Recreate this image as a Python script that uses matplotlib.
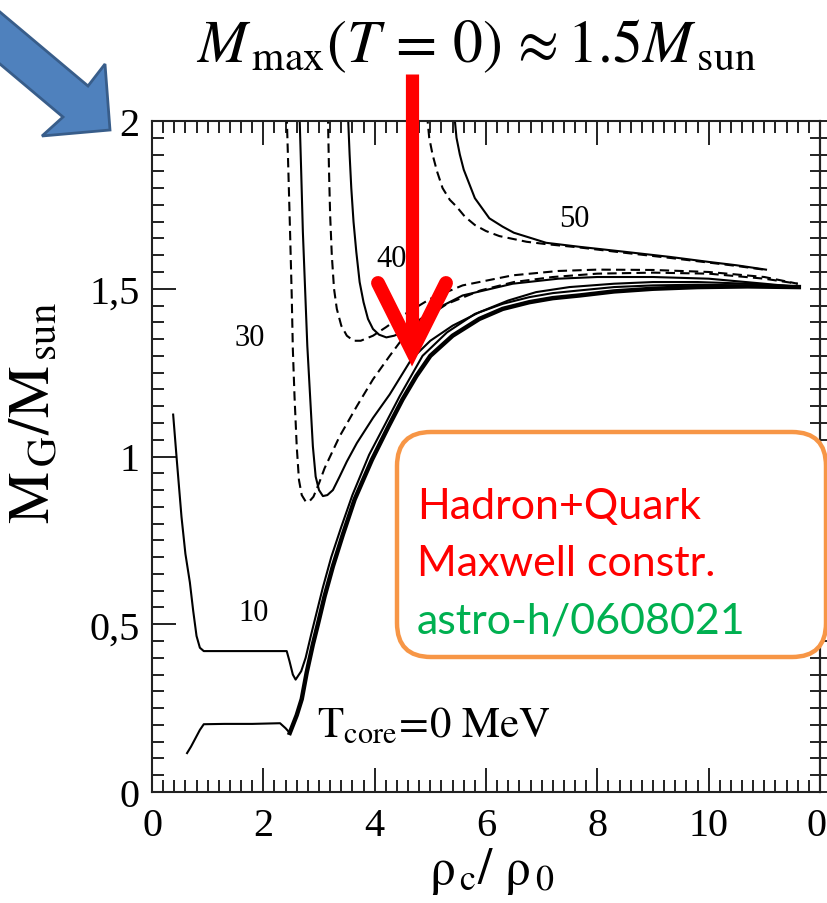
import matplotlib
matplotlib.use("Agg")
import matplotlib.pyplot as plt
from matplotlib.patches import Polygon, FancyBboxPatch
from matplotlib.lines import Line2D
from matplotlib.transforms import IdentityTransform
from matplotlib.ticker import MultipleLocator, FixedLocator, FixedFormatter

plt.rcParams['font.family'] = ['Liberation Serif', 'DejaVu Serif']
plt.rcParams['mathtext.fontset'] = 'stix'

# ---- data: gravitational mass vs central density (rho_c / rho_0) ----
t0_x = [0.63, 0.70, 0.78, 0.86, 0.93, 1.3, 1.8, 2.3, 2.40, 2.475, 2.60, 2.69, 2.78, 2.89,
        2.98, 3.10, 3.25, 3.43, 3.64, 3.95, 4.25, 4.5, 4.75, 5.0, 5.4, 5.88, 6.3, 6.78,
        7.2, 7.68, 8.3, 9.0, 9.8, 10.7, 11.62]
t0_y = [0.116, 0.135, 0.16, 0.185, 0.202, 0.203, 0.203, 0.205, 0.19, 0.176, 0.229, 0.277,
        0.357, 0.44, 0.50, 0.583, 0.673, 0.768, 0.872, 0.99, 1.09, 1.17, 1.24, 1.30, 1.36,
        1.41, 1.44, 1.46, 1.472, 1.48, 1.492, 1.50, 1.505, 1.507, 1.505]

t10_x = [0.38, 0.45, 0.53, 0.60, 0.68, 0.74, 0.80, 0.86, 0.93, 1.5, 2.0, 2.42, 2.47, 2.53,
         2.58, 2.68, 2.76, 2.86, 2.95, 3.07, 3.22, 3.40, 3.60, 3.90, 4.2, 4.45, 4.86, 5.3,
         5.8, 6.3, 6.78, 7.2, 7.68, 8.3, 9.0, 9.8, 10.7, 11.62]
t10_y = [1.125, 0.98, 0.82, 0.71, 0.625, 0.54, 0.465, 0.43, 0.42, 0.42, 0.42, 0.42, 0.39,
         0.35, 0.335, 0.36, 0.40, 0.47, 0.53, 0.61, 0.70, 0.79, 0.885, 1.005, 1.10, 1.18,
         1.30, 1.37, 1.425, 1.455, 1.475, 1.487, 1.495, 1.505, 1.51, 1.512, 1.51, 1.505]

t30s_x = [2.65, 2.68, 2.71, 2.75, 2.79, 2.84, 2.89, 2.94, 3.0, 3.07, 3.15, 3.25, 3.37, 3.5,
          3.68, 3.97, 4.27, 4.66, 5.0, 5.4, 5.88, 6.4, 6.9, 7.5, 8.3, 9.0, 9.8, 10.7, 11.62]
t30s_y = [2.02, 1.85, 1.67, 1.50, 1.33, 1.18, 1.03, 0.94, 0.90, 0.882, 0.885, 0.90, 0.94,
          0.985, 1.04, 1.115, 1.185, 1.29, 1.345, 1.39, 1.43, 1.465, 1.49, 1.505, 1.515,
          1.52, 1.52, 1.515, 1.507]

t30d_x = [2.42, 2.45, 2.48, 2.51, 2.53, 2.56, 2.60, 2.64, 2.69, 2.76, 2.82, 2.90, 3.0, 3.1,
          3.37, 3.68, 3.97, 4.27, 4.45, 4.8, 5.3, 5.9, 6.5, 7.2, 8.0, 9.0, 10.0, 11.0, 11.6]
t30d_y = [2.02, 1.85, 1.67, 1.48, 1.32, 1.18, 1.03, 0.93, 0.885, 0.866, 0.865, 0.88, 0.92,
          0.965, 1.06, 1.15, 1.23, 1.30, 1.34, 1.40, 1.455, 1.495, 1.52, 1.535, 1.545, 1.548,
          1.545, 1.53, 1.515]

t40s_x = [3.52, 3.55, 3.58, 3.62, 3.67, 3.73, 3.80, 3.88, 3.97, 4.08, 4.21, 4.35, 4.5, 4.99,
          5.58, 6.48, 7.3, 8.0, 9.0, 10.0, 11.0, 11.62]
t40s_y = [2.02, 1.90, 1.80, 1.70, 1.61, 1.52, 1.46, 1.41, 1.38, 1.363, 1.355, 1.36, 1.37,
          1.43, 1.48, 1.515, 1.53, 1.535, 1.535, 1.53, 1.515, 1.505]

t40d_x = [3.16, 3.18, 3.20, 3.23, 3.27, 3.32, 3.40, 3.50, 3.62, 3.75, 3.97, 4.2, 4.5, 5.0,
          5.58, 6.48, 7.3, 8.0, 9.0, 10.0, 11.0, 11.6]
t40d_y = [2.02, 1.85, 1.72, 1.60, 1.50, 1.44, 1.39, 1.36, 1.345, 1.345, 1.36, 1.385, 1.42,
          1.47, 1.51, 1.54, 1.553, 1.557, 1.556, 1.55, 1.535, 1.515]

t50s_x = [5.43, 5.47, 5.53, 5.60, 5.80, 6.06, 6.30, 6.50, 6.83, 7.08, 7.68, 8.5, 9.3, 10.0,
          10.5, 11.03]
t50s_y = [2.02, 1.95, 1.90, 1.855, 1.77, 1.71, 1.685, 1.667, 1.65, 1.637, 1.625, 1.61,
          1.595, 1.58, 1.57, 1.557]

t50d_x = [4.94, 4.98, 5.04, 5.12, 5.22, 5.35, 5.47, 5.62, 5.80, 6.00, 6.24, 6.50, 6.73,
          7.08, 7.68, 8.5, 9.3, 10.0, 10.5, 11.03]
t50d_y = [2.02, 1.95, 1.90, 1.85, 1.80, 1.765, 1.745, 1.715, 1.69, 1.672, 1.657, 1.648,
          1.64, 1.633, 1.623, 1.607, 1.592, 1.578, 1.568, 1.556]

x_ticks = [0, 2, 4, 6, 8, 10, 12]
x_tick_labels = ['0', '2', '4', '6', '8', '10', '']
edge_label = '0'   # first tick label of the neighbouring panel, at the right border
y_ticks = [0, 0.5, 1.0, 1.5, 2.0]
y_tick_labels = ['0', '0,5', '1', '1,5', '2']

curve_labels = ['10', '30', '40', '50']
curve_label_x = [1.83, 1.76, 4.30, 7.59]
curve_label_y = [0.535, 1.354, 1.59, 1.71]

box_lines = ['Hadron+Quark', 'Maxwell constr.', 'astro-h/0608021']
box_colors = ['#FF0000', '#FF0000', '#00B050']

# ---- figure ----
W, H = 828, 904
fig = plt.figure(figsize=(W / 100, H / 100), dpi=100)
ax = fig.add_axes([152 / W, (H - 793) / H, 668 / W, 671 / H])

thin = 1.5
dash = (4.5, 2.5)
# T = 0: thin along the low-density plateau, heavy along the rising branch
ax.plot(t0_x[:11], t0_y[:11], color='black', lw=thin)
ax.plot(t0_x[9:], t0_y[9:], color='black', lw=3.2, solid_joinstyle='round')
ax.plot(t10_x, t10_y, color='black', lw=thin)
ax.plot(t30s_x, t30s_y, color='black', lw=thin)
ax.plot(t30d_x, t30d_y, color='black', lw=thin, dashes=dash)
ax.plot(t40s_x, t40s_y, color='black', lw=thin)
ax.plot(t40d_x, t40d_y, color='black', lw=thin, dashes=dash)
ax.plot(t50s_x, t50s_y, color='black', lw=thin)
ax.plot(t50d_x, t50d_y, color='black', lw=thin, dashes=dash)

for lab, lx, ly in zip(curve_labels, curve_label_x, curve_label_y):
    ax.text(lx, ly, lab, fontsize=22, ha='center', va='center')
ax.text(2.96, 0.167, r'$\mathrm{T_{core}\!=\!0\ MeV}$', fontsize=31, va='baseline', ha='left')

ax.set_xlim(0, 12)
ax.set_ylim(0, 2)
ax.xaxis.set_major_locator(FixedLocator(x_ticks))
ax.xaxis.set_major_formatter(FixedFormatter(x_tick_labels))
ax.xaxis.set_minor_locator(MultipleLocator(0.2))
ax.yaxis.set_major_locator(FixedLocator(y_ticks))
ax.yaxis.set_major_formatter(FixedFormatter(y_tick_labels))
ax.yaxis.set_minor_locator(MultipleLocator(0.05))
ax.tick_params(which='both', direction='in', top=True, right=False, width=1.4,
               color='#222222', labelsize=29)
ax.tick_params(which='major', length=17)
ax.tick_params(which='minor', length=8.5)
ax.tick_params(axis='x', pad=11)
ax.tick_params(axis='y', pad=9)
for sp in ax.spines.values():
    sp.set_linewidth(1.5)
    sp.set_color('#222222')

sec = ax.secondary_yaxis('right')
sec.yaxis.set_major_locator(MultipleLocator(0.05))
sec.tick_params(which='both', direction='inout', length=15, width=1.4, color='#222222',
                labelright=False)
sec.spines['right'].set_linewidth(1.5)

# tick label of the adjoining panel, kept inside the canvas
fig.text(827 / W, 1 - 836 / H, edge_label, fontsize=29, ha='right', va='baseline')

# axis labels
fig.text(36 / W, 1 - 413 / H, r'$\mathrm{M_{\,G}/M_{\,sun}}$', rotation=90, fontsize=42,
         ha='center', va='center')
fig.text(492 / W, 1 - 872 / H, r'$\mathrm{ρ_{\,c}/\ ρ_{\,0}}$', fontsize=37, ha='center',
         va='center')

# headline
fig.text(476 / W, 1 - 46 / H,
         r'$M_{\,\mathrm{max}}(T\,=\,0)\,\approx 1.5M_{\,\mathrm{sun}}$',
         fontsize=43, ha='center', va='center')

px = IdentityTransform()

# rounded annotation box
box = FancyBboxPatch((397, H - 658), 429, 225, boxstyle='round,pad=0,rounding_size=34',
                     transform=px, facecolor='white', edgecolor='#F79646', lw=3.2, zorder=5)
fig.add_artist(box)
for i, (txt, col) in enumerate(zip(box_lines, box_colors)):
    fig.text(417 / W, 1 - (519 + 57.5 * i) / H, txt, color=col, fontsize=31,
             family='Lato', va='baseline', ha='left', zorder=6)

# red arrow
fig.add_artist(Line2D([412, 412], [H - 75, H - 340], transform=px, color='#FF0000',
                      lw=9.5, solid_capstyle='butt', zorder=8))
fig.add_artist(Line2D([378, 412, 446], [H - 284, H - 352, H - 284], transform=px,
                      color='#FF0000', lw=10, solid_capstyle='round',
                      solid_joinstyle='miter', zorder=8))

# blue block arrow
blue = Polygon([(-6, H - 8), (88, H - 87), (105, H - 65), (110, H - 131), (42, H - 137),
                (63, H - 118), (-6, H - 60)], closed=True, transform=px,
               facecolor='#4F81BD', edgecolor='#385D8A', lw=2, zorder=8)
fig.add_artist(blue)

fig.savefig('out.png', dpi=100)
